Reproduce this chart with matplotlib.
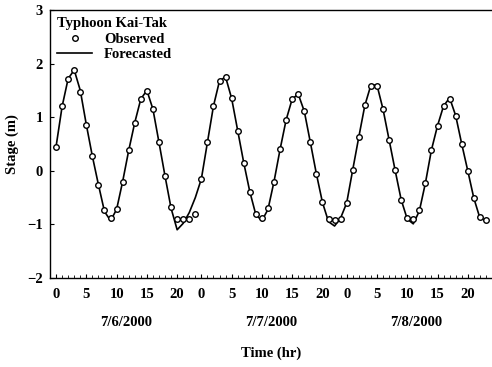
import matplotlib
matplotlib.use("Agg")
import matplotlib.pyplot as plt
from matplotlib.ticker import FixedLocator, MultipleLocator

hours = list(range(72))
observed = [0.45, 1.2, 1.72, 1.88, 1.47, 0.86, 0.27, -0.26, -0.74, -0.88, -0.71, -0.2,
            0.38, 0.9, 1.34, 1.49, 1.15, 0.53, -0.1, -0.68, -0.9, -0.9, -0.9, -0.81,
            -0.15, 0.53, 1.21, 1.68, 1.75, 1.35, 0.75, 0.15, -0.39, -0.81, -0.88, -0.7,
            -0.2, 0.4, 0.95, 1.34, 1.43, 1.11, 0.53, -0.06, -0.59, -0.9, -0.91, -0.9,
            -0.6, 0.02, 0.63, 1.22, 1.58, 1.59, 1.15, 0.58, 0.01, -0.54, -0.88, -0.9,
            -0.73, -0.23, 0.39, 0.84, 1.21, 1.34, 1.03, 0.5, 0.0, -0.51, -0.87, -0.91]
forecasted = [0.45, 1.2, 1.72, 1.88, 1.5, 0.86, 0.27, -0.26, -0.76, -0.93, -0.72, -0.2,
              0.38, 0.9, 1.34, 1.5, 1.15, 0.53, -0.1, -0.7, -1.1, -0.98, -0.78, -0.5,
              -0.15, 0.53, 1.21, 1.68, 1.75, 1.35, 0.75, 0.15, -0.39, -0.82, -0.93, -0.72,
              -0.2, 0.4, 0.95, 1.34, 1.43, 1.11, 0.53, -0.06, -0.59, -0.95, -1.03, -0.88,
              -0.6, 0.02, 0.63, 1.22, 1.6, 1.6, 1.15, 0.58, 0.01, -0.54, -0.9, -0.99,
              -0.75, -0.23, 0.39, 0.84, 1.21, 1.36, 1.03, 0.5, 0.0, -0.51, -0.88, -0.93]
tick_hours = [0, 5, 10, 15, 20, 24, 29, 34, 39, 44, 48, 53, 58, 63, 68]
tick_labels = ["0", "5", "10", "15", "20"] * 3
dates = ["7/6/2000", "7/7/2000", "7/8/2000"]
date_pos = [11.5, 35.5, 59.5]

font = "Liberation Serif"
plt.rcParams["font.family"] = [font, "DejaVu Serif"]
plt.rcParams["font.weight"] = "bold"
FS = 10.5

fig = plt.figure(figsize=(4.92, 3.67), dpi=100)
ax = fig.add_axes([50/492, 1-278/367, 442/492, 268/367])

ax.plot(hours, forecasted, color="black", lw=1.2, label="Forecasted", zorder=2)
ax.plot(hours, observed, linestyle="none", marker="o", markersize=4.0,
        markerfacecolor="white", markeredgecolor="black", markeredgewidth=1.0,
        label="Observed", zorder=3)

ax.set_xlim(-1, 72)
ax.set_ylim(-2, 3)
ax.xaxis.set_major_locator(FixedLocator(tick_hours))
ax.set_xticklabels(tick_labels)
ax.xaxis.set_minor_locator(MultipleLocator(1))
ax.yaxis.set_major_locator(MultipleLocator(1))
ax.tick_params(axis="both", which="major", direction="in", length=3, width=0.8,
               labelsize=FS)
ax.tick_params(axis="x", which="minor", direction="in", length=2, width=0.6)
ax.tick_params(axis="x", which="major", pad=7)
ax.tick_params(axis="y", which="major", pad=5)
for lab in ax.get_xticklabels() + ax.get_yticklabels():
    lab.set_fontweight("bold")
ax.spines["right"].set_visible(False)
for s in ["left", "bottom", "top"]:
    ax.spines[s].set_linewidth(1.0)

for d, p in zip(dates, date_pos):
    ax.text(p, -2.83, d, ha="center", va="center", fontsize=FS, fontweight="bold")
ax.text(35.5, -3.4, "Time (hr)", ha="center", va="center", fontsize=FS,
        fontweight="bold")
ax.set_ylabel("Stage (m)", fontsize=FS, fontweight="bold", labelpad=6)

handles, labels = ax.get_legend_handles_labels()
leg = ax.legend([handles[1], handles[0]], [labels[1], labels[0]],
                title="Typhoon Kai-Tak", loc="upper left", frameon=False,
                numpoints=1, handlelength=2.4, handletextpad=0.8,
                labelspacing=0.15, borderaxespad=0.3, borderpad=0.2,
                prop={"size": FS, "weight": "bold"},
                title_fontproperties={"size": FS, "weight": "bold"})
leg._legend_box.align = "left"

fig.savefig("out.png", dpi=100)
